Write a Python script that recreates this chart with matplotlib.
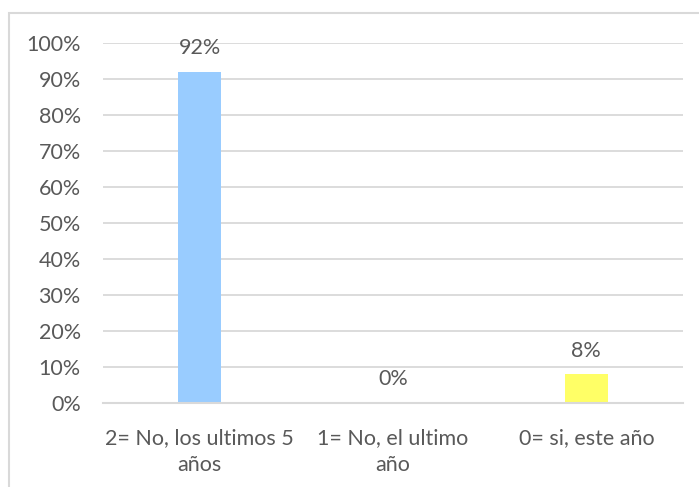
import matplotlib.pyplot as plt
from matplotlib.patches import Rectangle
from matplotlib.ticker import PercentFormatter

categories = ["2= No, los ultimos 5\naños", "1= No, el ultimo\naño", "0= si, este año"]
values = [92, 0, 8]
bar_colors = ["#99CCFF", "#99CCFF", "#FFFF66"]
y_ticks = list(range(0, 101, 10))

TEXT = "#595959"
GRID = "#D9D9D9"
FS = 15.5

plt.rcParams["font.family"] = ["Lato", "DejaVu Sans"]

fig = plt.figure(figsize=(6.99, 4.87), dpi=100)
fig.patch.set_facecolor("white")

# outer chart frame (runs past the right and bottom edges)
fig.patches.append(Rectangle((9 / 699, -0.1), 1.2, 1.1 - 13 / 487,
                             transform=fig.transFigure, fill=False,
                             edgecolor=GRID, linewidth=1.5))

ax = fig.add_axes([103 / 699, 84 / 487, 580 / 699, 360 / 487])
x = range(len(categories))
ax.bar(x, values, width=0.222, color=bar_colors, zorder=3)

for xi, v in zip(x, values):
    ax.annotate(f"{v}%", (xi, v), xytext=(0, 17), textcoords="offset points",
                ha="center", va="center", fontsize=FS, color=TEXT)

ax.set_xlim(-0.5, 2.5)
ax.set_ylim(0, 100)
ax.set_yticks(y_ticks)
ax.yaxis.set_major_formatter(PercentFormatter(decimals=0))
ax.set_xticks(list(x))
ax.set_xticklabels(categories, linespacing=1.45)
ax.tick_params(axis="both", length=0, labelsize=FS, colors=TEXT)
ax.tick_params(axis="y", pad=16)
ax.tick_params(axis="x", pad=18)

ax.grid(axis="y", color=GRID, linewidth=1.3, zorder=0)
for side in ("top", "right", "left"):
    ax.spines[side].set_visible(False)
ax.spines["bottom"].set_color(GRID)
ax.spines["bottom"].set_linewidth(1.5)
ax.spines["bottom"].set_zorder(4)

fig.savefig("out.png", dpi=100)
